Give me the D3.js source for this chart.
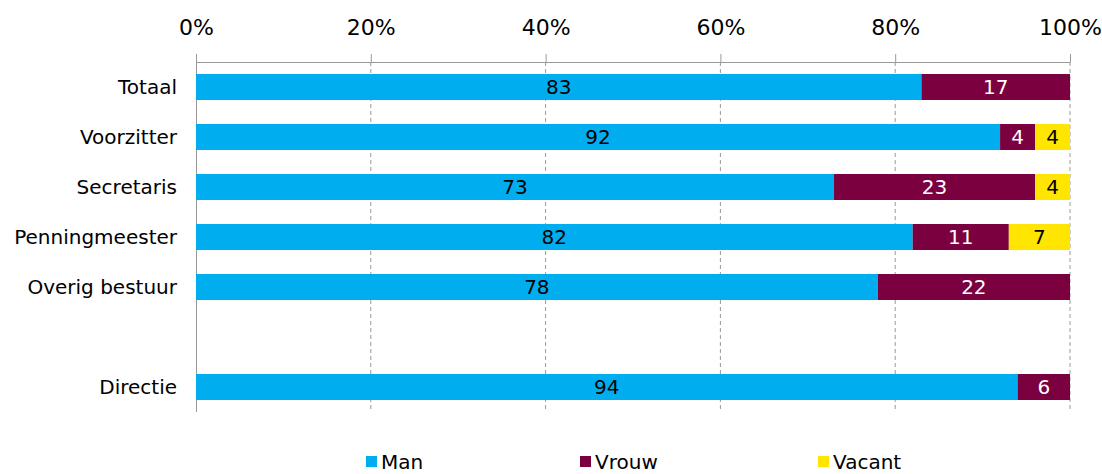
<!DOCTYPE html>
<html><head><meta charset="utf-8">
<script src="https://cdn.jsdelivr.net/npm/d3@7"></script>
<style>body{margin:0;background:#fff}svg{display:block}text{font-family:"DejaVu Sans",sans-serif}</style>
</head><body><svg id="c" width="1102" height="474"></svg>
<script>
const categories = ["Totaal","Voorzitter","Secretaris","Penningmeester","Overig bestuur","","Directie"];
const man    = [83,92,73,82,78,null,94];
const vrouw  = [17,4,23,11,22,null,6];
const vacant = [0,4,4,7,0,null,0];
const seriesNames = ["Man","Vrouw","Vacant"];
const seriesColors = ["#00aeef","#7b003f","#ffe500"];
const labelColors = ["#000","#fff","#000"];
const tickValues = [0,20,40,60,80,100];

const svg = d3.select("#c");
const x = d3.scaleLinear().domain([0,100]).range([196,1070]);
const y = d3.scaleBand().domain(d3.range(categories.length)).range([62,412]).paddingInner(0.48).paddingOuter(0.24);

// gridlines
svg.append("g").selectAll("line").data(tickValues.slice(1)).join("line")
  .attr("x1",d=>x(d)).attr("x2",d=>x(d)).attr("y1",62).attr("y2",412)
  .attr("stroke","#999").attr("stroke-dasharray","4,3").attr("stroke-width",1);

// axes
const ax = svg.append("g").attr("transform","translate(0,62)")
  .call(d3.axisTop(x).tickValues(tickValues).tickFormat(d=>d+"%").tickSize(8).tickPadding(19));
ax.select(".domain").attr("stroke","#999").attr("d","M196.5,0.5H1070.5");
ax.selectAll(".tick line").attr("stroke","#999");
ax.selectAll("text").attr("font-size",22).attr("fill","#000").attr("font-family","DejaVu Sans");
svg.append("line").attr("x1",196.5).attr("x2",196.5).attr("y1",62).attr("y2",412).attr("stroke","#999");

// category labels
svg.append("g").selectAll("text").data(categories).join("text")
  .attr("x",177).attr("y",(d,i)=>y(i)+y.bandwidth()/2).attr("dy","0.36em")
  .attr("text-anchor","end").attr("font-size",20).text(d=>d);

// stacked bars
const rows = categories.map((c,i)=>({i, vals:[man[i],vrouw[i],vacant[i]]})).filter(r=>r.vals[0]!=null);
rows.forEach(r=>{
  let acc=0;
  r.vals.forEach((v,k)=>{
    if(!v) return;
    const x0=x(acc), x1=x(acc+v);
    svg.append("rect").attr("x",x0).attr("y",y(r.i)).attr("width",x1-x0).attr("height",y.bandwidth()).attr("fill",seriesColors[k]);
    svg.append("text").attr("x",(x0+x1)/2).attr("y",y(r.i)+y.bandwidth()/2).attr("dy","0.36em")
      .attr("text-anchor","middle").attr("font-size",20).attr("fill",labelColors[k]).text(v);
    acc+=v;
  });
});

// legend
const legendX=[366,580,818];
const lg=svg.append("g").selectAll("g").data(seriesNames).join("g").attr("transform",(d,i)=>`translate(${legendX[i]},0)`);
lg.append("rect").attr("x",0).attr("y",456).attr("width",11).attr("height",11).attr("fill",(d,i)=>seriesColors[i]);
lg.append("text").attr("x",15).attr("y",469).attr("font-size",20).text(d=>d);
</script></body></html>
